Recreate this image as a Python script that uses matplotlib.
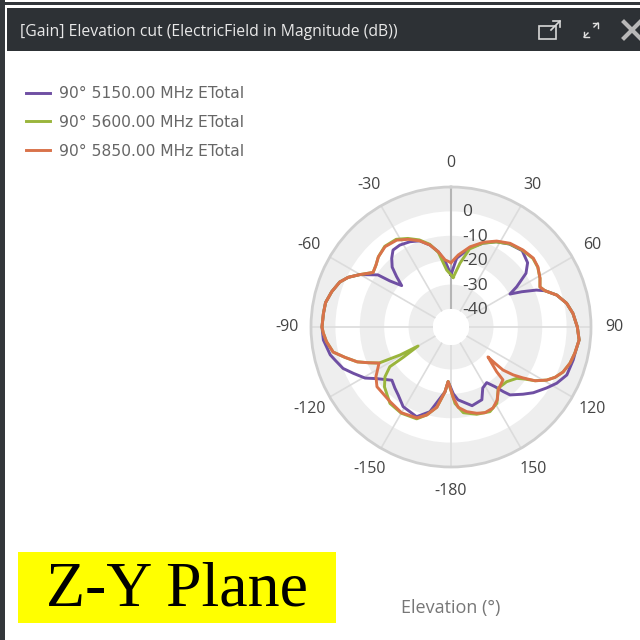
import numpy as np
import matplotlib
matplotlib.use("Agg")
import matplotlib.pyplot as plt
from matplotlib.patches import Rectangle

# Angle in degrees, gain in dB
angle_5850 = [0, 5.8, 13.4, 20.9, 28, 35.2, 43, 50.1, 55.4, 61.3, 65.8, 68.9, 73.2, 78.4, 83.6, 90, 95.8, 101.8, 106.9,
              111.9, 115.8, 119, 122.6, 125.3, 127.6, 129.6, 129.5, 129, 134.4, 135.5, 143, 147.6, 152.6, 158.4, 163.4,
              169.5, 174.8, 178, 183, 185.3, 190, 195.4, 200.5, 210, 219.2, 231.1, 236.5, 243.4, 246.6, 249.6, 254, 258,
              263.3, 267.3, 270, 276, 281, 286.5, 292, 295.8, 299.9, 305, 309.6, 314, 320.6, 328, 334, 340, 345.6, 350.4,
              355, 360]
gain_5850 = [-21, -17.7, -13.6, -10.2, -7.5, -5.4, -4.2, -3.4, -4.1, -5.8, -7.4, -6.1, -2.1, 1, 2.9, 4.4, 5.4, 4.5, 3.6,
             2.1, 0, -2.5, -6.5, -11.3, -15.2, -19.7, -24, -27.9, -21.2, -17, -15.2, -12, -10, -9.6, -10.5,
             -12.1, -14.3, -18.2, -25, -20.7, -14, -10, -7.6, -6.8, -7.9, -8.4, -10.5, -14.4, -10.5, -6.4, -2.2, 2,
             4, 5, 5.5, 5.2, 5, 3.6, 1.8, -0.6, -4.3, -8.4, -7.5, -6, -4.8, -5.4, -7.4, -9.8, -12.7, -16.1,
             -19.8, -21]

angle_5600 = [2.6, 8, 13.4, 20.9, 28, 35.2, 43, 50.1, 55.4, 61.3, 65.8, 68.9, 73.2, 78.4, 83.6, 90, 95.8, 101.8, 106.9,
              111.9, 115.8, 119, 122.6, 125.3, 128, 134.5, 142.3, 149, 155.3, 163.6, 171.8, 177, 183, 185.3, 190, 195.4,
              200.5, 210, 218.6, 228, 233, 237, 237.6, 240, 241.2, 243.4, 246.6, 249.6, 254, 258, 263.3, 267.3, 270, 276,
              281, 286.5, 292, 295.8, 299.9, 305, 309.6, 314, 320.6, 328, 334, 340, 345.6, 350.4, 355.7, 362.6]
gain_5600 = [-27, -21, -14.5, -10.6, -7.9, -5.7, -4.4, -3.6, -4.2, -5.8, -7.4, -6.1, -2.1, 1, 2.9, 4.4, 5.4, 4.5, 3.6,
             2.1, 0, -2.5, -6.5, -10.5, -13.2, -15.4, -15.7, -10.9, -9.2, -10.1, -11.9, -16, -25, -20.7, -14, -10,
             -7.2, -6.6, -7.3, -10.7, -13.5, -17.5, -24.2, -31.8, -23.6, -14.4, -10.5, -6.4, -2.2, 2, 4, 5, 5.5, 5.2,
             5, 3.6, 1.8, -0.6, -4.3, -8.4, -7.5, -6, -4.6, -5, -7, -9.4, -12.4, -16.4, -24, -27]

angle_5150 = [0, 4.7, 13.4, 20.9, 28, 35.2, 43, 50, 54.4, 58.5, 60.8, 63.5, 66.6, 68.9, 73.2, 78.4, 83.6, 90, 95.8, 101.8,
              105.1, 112.5, 118, 122.5, 128.6, 133, 139, 141, 143.6, 147.3, 152.5, 157, 165, 174.5, 178, 183, 185.3, 194,
              201, 211, 217.8, 222.6, 228, 235.2, 239.3, 244.6, 249, 254, 257, 264.2, 270, 276, 281, 286.5, 292, 295.8,
              299.9, 305.5, 307, 310, 312.8, 315.5, 319.2, 323, 328, 334.3, 340, 345.6, 350.4, 355, 360]
gain_5150 = [-26, -19.1, -14, -10.6, -7.8, -5.8, -4.6, -6.4, -9.6, -15.8, -19.7, -15, -9.3, -6.1, -2.1, 1, 2.9, 4.4, 5.4, 4.6,
             4.5, 4, 1.7, -0.9, -4.2, -7, -10.5, -13.3, -17, -20.3, -19.2, -15, -14, -17.4, -20, -25, -20.7, -11.6,
             -8, -9.3, -12.1, -13.4, -14.8, -10.3, -6.4, -3.1, 0, 2, 3.4, 5.2, 5.5, 5.2, 5, 3.6, 1.8, -0.6,
             -4.3, -10.6, -16, -21, -17, -13, -10.2, -7.9, -7.8, -8.6, -9.8, -12.7, -16.1, -20.5, -26]

series_labels = ["90° 5150.00 MHz ETotal", "90° 5600.00 MHz ETotal", "90° 5850.00 MHz ETotal"]
series_colors = ["#6f4fa3", "#9ab53c", "#d9724a"]

angle_ticks = [0, 30, 60, 90, 120, 150, 180, 210, 240, 270, 300, 330]
angle_labels = ["0", "30", "60", "90", "120", "150", "-180", "-150", "-120", "-90", "-60", "-30"]
radial_ticks = [0, -10, -20, -30, -40]
band_low = [-40, -20, 0]
band_high = [-30, -10, 10]

plt.rcParams["font.family"] = ["Open Sans", "DejaVu Sans"]

fig = plt.figure(figsize=(6.4, 6.4), dpi=100)

# window chrome, in pixel coordinates
bg = fig.add_axes([0, 0, 1, 1])
bg.set_xlim(0, 640)
bg.set_ylim(640, 0)
bg.axis("off")
bg.add_patch(Rectangle((0, 2), 640, 3, color="#33373b", lw=0))
bg.add_patch(Rectangle((0, 0), 5, 640, color="#33373b", lw=0))
bg.add_patch(Rectangle((7, 8), 633, 43, color="#2d3135", lw=0))
bg.text(20, 32.5, "[Gain] Elevation cut (ElectricField in Magnitude (dB))", color="#e8e8e8",
        fontsize=11.3, va="center", ha="left")

# window icons
bg.add_patch(Rectangle((539, 26), 17, 13, fill=False, ec="#d8d8d8", lw=1.2))
bg.plot([551, 560], [30, 21], color="#d8d8d8", lw=1.2)
bg.plot([553, 560, 560], [21, 21, 27], color="#d8d8d8", lw=1.2)
bg.plot([594, 598], [27, 23], color="#e0e0e0", lw=1)
bg.plot([593, 598, 598], [23, 23, 28], color="#e0e0e0", lw=1)
bg.plot([584, 588], [37, 33], color="#e0e0e0", lw=1)
bg.plot([584, 584, 589], [32, 37, 37], color="#e0e0e0", lw=1)
bg.plot([624, 640], [22, 38], color="#b8b8b8", lw=3)
bg.plot([624, 640], [38, 22], color="#b8b8b8", lw=3)

# the yellow caption
bg.add_patch(Rectangle((18, 552), 318, 71, color="#ffff00", lw=0))
bg.text(177, 591, "Z-Y Plane", family="Liberation Serif", fontsize=46, color="black", ha="center", va="center")
bg.text(451, 608.5, "Elevation (°)", color="#777777", fontsize=13, ha="center", va="center")

# polar plot
ax = fig.add_axes([311 / 640, 173 / 640, 280 / 640, 280 / 640], projection="polar")
ax.set_theta_zero_location("N")
ax.set_theta_direction(-1)
ax.set_rorigin(-47.4)
ax.set_rlim(-40, 10)

for low, high in zip(band_low, band_high):
    ax.bar(0, high - low, width=2 * np.pi, bottom=low, color="#eeeeee", lw=0, zorder=0)

ax.set_xticks(np.deg2rad(angle_ticks))
ax.set_xticklabels(angle_labels, fontsize=11.5, color="#444444")
ax.tick_params(axis="x", pad=6.5)
ax.set_yticks(radial_ticks)
ax.set_yticklabels([])
ax.grid(axis="y", visible=False)
ax.grid(axis="x", color="#dcdcdc", lw=1.2)
ax.set_axisbelow(True)
ax.axvline(0, color="#b5b5b5", lw=1.5, zorder=1)
ax.spines["polar"].set_color("#cfcfcf")
ax.spines["polar"].set_linewidth(2)
ax.spines["inner"].set_linewidth(0)

for value in radial_ticks:
    ax.annotate(str(value), (0, value), xytext=(8, -0.7), textcoords="offset points", fontsize=12.5,
                color="#444444", ha="left", va="center", annotation_clip=False, zorder=5)

angle_sets = [angle_5150, angle_5600, angle_5850]
gain_sets = [gain_5150, gain_5600, gain_5850]
handles = []
for angles, gains, color, label in zip(angle_sets, gain_sets, series_colors, series_labels):
    line, = ax.plot(np.deg2rad(angles), gains, color=color, lw=2.1, label=label, zorder=3)
    handles.append(line)

fig.legend(handles=handles, loc="upper left", bbox_to_anchor=(26 / 640, 1 - 86 / 640), frameon=False,
           labelcolor="#666666", handlelength=1.55, handletextpad=0.6, labelspacing=0.89,
           borderpad=0, borderaxespad=0, prop={"family": "DejaVu Sans", "size": 11.15})

fig.savefig("out.png", dpi=100)
